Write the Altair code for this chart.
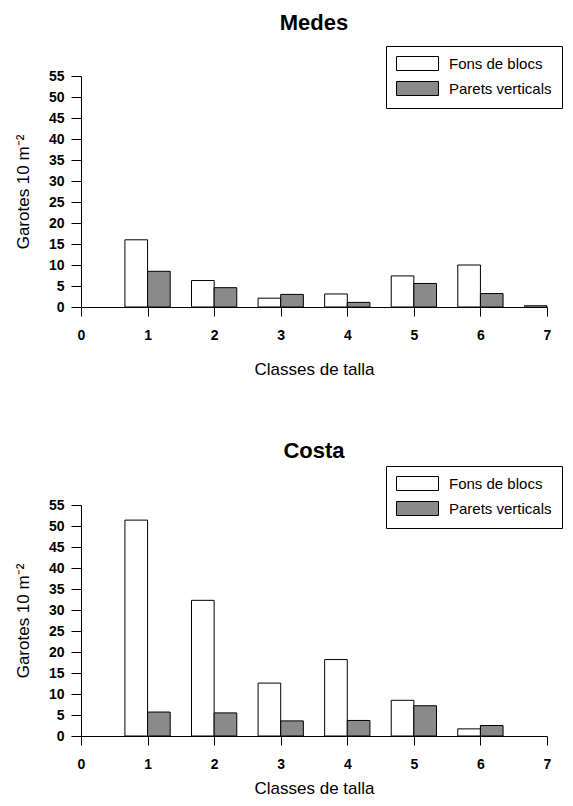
import altair as alt
import pandas as pd

classes = [1, 2, 3, 4, 5, 6, 7]
series_names = ["Fons de blocs", "Parets verticals"]

medes_fons = [16.0, 6.3, 2.1, 3.1, 7.4, 10.0, 0.3]
medes_parets = [8.5, 4.6, 3.0, 1.1, 5.6, 3.2, 0.0]

costa_fons = [51.4, 32.3, 12.6, 18.2, 8.5, 1.7, 0.0]
costa_parets = [5.7, 5.5, 3.6, 3.7, 7.2, 2.5, 0.0]

x_ticks = [0, 1, 2, 3, 4, 5, 6, 7]
y_ticks = [0, 5, 10, 15, 20, 25, 30, 35, 40, 45, 50, 55]

BAR_W = 0.34
FONT = "Liberation Sans"


def make_df(fons, parets):
    rows = []
    for c, v in zip(classes, fons):
        rows.append({"classe": c, "serie": series_names[0], "valor": v})
    for c, v in zip(classes, parets):
        rows.append({"classe": c, "serie": series_names[1], "valor": v})
    return pd.DataFrame(rows)


def panel(title, fons, parets, legend_y, title_offset, xtitle_pad):
    df = make_df(fons, parets)
    base = alt.Chart(df).transform_filter("datum.valor > 0").transform_calculate(
        x0=f"datum.serie == '{series_names[0]}' ? datum.classe - {BAR_W} : datum.classe",
        x1=f"datum.serie == '{series_names[0]}' ? datum.classe : datum.classe + {BAR_W}",
    )
    bars = base.mark_bar(stroke="black", strokeWidth=1, opacity=1).encode(
        x=alt.X(
            "x0:Q",
            scale=alt.Scale(domain=[0, 7], nice=False, zero=False),
            axis=alt.Axis(
                values=x_ticks,
                title="Classes de talla",
                titleFont=FONT,
                titleFontSize=17,
                titleFontWeight="normal",
                titleColor="black",
                titlePadding=xtitle_pad,
                labelFont=FONT,
                labelFontSize=14,
                labelFontWeight="bold",
                labelColor="black",
                labelPadding=12,
                tickSize=9,
                tickColor="black",
                domainColor="black",
                grid=False,
                format="d",
                labelFlush=False,
            ),
        ),
        x2="x1:Q",
        y=alt.Y(
            "valor:Q",
            scale=alt.Scale(domain=[0, 55], nice=False),
            axis=alt.Axis(
                values=y_ticks,
                title="Garotes 10 m⁻²",
                titleFont=FONT,
                titleFontSize=17,
                titleFontWeight="normal",
                titleColor="black",
                titlePadding=16,
                labelFont=FONT,
                labelFontSize=14,
                labelFontWeight="bold",
                labelColor="black",
                labelPadding=7,
                tickSize=10,
                tickColor="black",
                domainColor="black",
                grid=False,
                labelFlush=False,
            ),
        ),
        y2=alt.datum(0),
        color=alt.Color(
            "serie:N",
            scale=alt.Scale(domain=series_names, range=["white", "#8a8a8a"]),
            sort=series_names,
            legend=alt.Legend(
                title=None,
                orient="none",
                legendX=305,
                legendY=legend_y,
                direction="vertical",
                strokeColor="black",
                fillColor="white",
                padding=10,
                cornerRadius=0,
                symbolType="M-1,-1 H5 V1 H-1 Z",
                symbolSize=196,
                symbolStrokeColor="black",
                symbolStrokeWidth=1,
                symbolOpacity=1,
                labelFont=FONT,
                labelFontSize=15,
                labelColor="black",
                labelOffset=38,
                rowPadding=6,
                labelLimit=300,
            ),
        ),
    )
    return bars.properties(
        width=466,
        height=231,
        title=alt.TitleParams(
            title,
            font=FONT,
            fontSize=22,
            fontWeight="bold",
            color="black",
            anchor="middle",
            offset=title_offset,
        ),
    )


top = panel("Medes", medes_fons, medes_parets, -30, 11, 19)
bottom = panel("Costa", costa_fons, costa_parets, -39, 3, 9)

chart = (
    alt.vconcat(top, bottom, spacing=62)
    .resolve_scale(color="independent")
    .resolve_legend(color="independent")
    .properties(
        padding={"left": 6, "top": 3, "right": 0, "bottom": 0},
        background="white",
    )
    .configure_view(strokeWidth=0)
)

chart.save("out.html", embed_options={"renderer": "svg", "actions": False})
